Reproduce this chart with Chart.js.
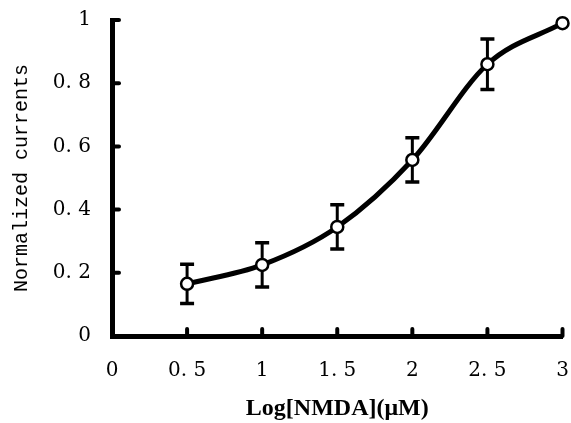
<!DOCTYPE html>
<html>
<head>
<meta charset="utf-8">
<script src="https://cdn.jsdelivr.net/npm/chart.js@4"></script>
<style>
html,body{margin:0;padding:0;background:#fff;}
#wrap{width:571px;height:423px;position:relative;}
</style>
</head>
<body>
<div id="wrap"><canvas id="c" width="571" height="423"></canvas></div>
<script>
// Data
const logConc = [0.5, 1, 1.5, 2, 2.5, 3];
const currents = [0.165, 0.225, 0.345, 0.557, 0.86, 0.99];
const errors = [0.062, 0.07, 0.07, 0.07, 0.08, 0];
const xTickLabels = ['0', '0. 5', '1', '1. 5', '2', '2. 5', '3'];
const yTickLabels = ['0', '0. 2', '0. 4', '0. 6', '0. 8', '1'];
const xTitle = 'Log[NMDA](\u03BCM)';
const yTitle = 'Normalized currents';

const errorBars = {
  id: 'errorBars',
  beforeDatasetsDraw(chart) {
    const ctx = chart.ctx, xs = chart.scales.x, ys = chart.scales.y;
    ctx.save();
    ctx.strokeStyle = '#000';
    ctx.lineCap = 'butt';
    logConc.forEach((x, i) => {
      const e = errors[i];
      if (!e) return;
      const px = xs.getPixelForValue(x);
      const top = ys.getPixelForValue(currents[i] + e);
      const bot = ys.getPixelForValue(currents[i] - e);
      ctx.lineWidth = 3;
      ctx.beginPath(); ctx.moveTo(px, top); ctx.lineTo(px, bot); ctx.stroke();
      ctx.lineWidth = 3.5;
      ctx.beginPath();
      ctx.moveTo(px - 7, top); ctx.lineTo(px + 7, top);
      ctx.moveTo(px - 7, bot); ctx.lineTo(px + 7, bot);
      ctx.stroke();
    });
    ctx.restore();
  }
};

const innerTicks = {
  id: 'innerTicks',
  afterDraw(chart) {
    const ctx = chart.ctx, xs = chart.scales.x, ys = chart.scales.y;
    const a = chart.chartArea;
    ctx.save();
    ctx.strokeStyle = '#000';
    ctx.lineWidth = 4;
    ctx.lineCap = 'round';
    ys.ticks.forEach(t => {
      const py = ys.getPixelForValue(t.value);
      if (t.value === 0) return;
      ctx.beginPath(); ctx.moveTo(a.left, py); ctx.lineTo(a.left + 7, py); ctx.stroke();
    });
    xs.ticks.forEach(t => {
      const px = xs.getPixelForValue(t.value);
      if (t.value === 0) return;
      ctx.beginPath(); ctx.moveTo(px, a.bottom); ctx.lineTo(px, a.bottom - 7); ctx.stroke();
    });
    ctx.restore();
  }
};

function zeroPad(s) { s.paddingLeft = 0; s.paddingRight = 0; s.paddingTop = 0; s.paddingBottom = 0; }

new Chart(document.getElementById('c'), {
  type: 'line',
  data: {
    datasets: [{
      data: logConc.map((x, i) => ({x: x, y: currents[i]})),
      borderColor: '#000',
      borderWidth: 5,
      cubicInterpolationMode: 'monotone',
      pointRadius: 6,
      pointBorderWidth: 2.5,
      pointBackgroundColor: '#fff',
      pointBorderColor: '#000',
      fill: false,
      clip: false
    }]
  },
  options: {
    responsive: false,
    animation: false,
    events: [],
    layout: {padding: {top: 20, right: 6, left: 10, bottom: 0}},
    plugins: {legend: {display: false}, tooltip: {enabled: false}},
    scales: {
      x: {
        type: 'linear', min: 0, max: 3,
        afterFit(s) { s.height = 87; zeroPad(s); },
        border: {display: true, color: '#000', width: 5},
        grid: {display: false, drawTicks: false},
        ticks: {
          stepSize: 0.5, padding: 23, color: '#000',
          font: {family: 'DejaVu Serif', size: 20},
          callback: (v, i) => xTickLabels[i]
        },
        title: {
          display: true, text: xTitle, color: '#000', padding: {top: 4, bottom: 0},
          font: {family: 'Liberation Serif', size: 24, weight: 'bold'}
        }
      },
      y: {
        type: 'linear', min: 0, max: 1,
        afterFit(s) { s.width = 102; zeroPad(s); },
        border: {display: true, color: '#000', width: 5},
        grid: {display: false, drawTicks: false},
        ticks: {
          stepSize: 0.2, padding: 21, color: '#000',
          font: {family: 'DejaVu Serif', size: 20},
          callback: (v, i) => yTickLabels[i]
        },
        title: {
          display: true, text: yTitle, color: '#000', padding: {top: 0, bottom: 4},
          font: {family: 'Liberation Mono', size: 20}
        }
      }
    }
  },
  plugins: [errorBars, innerTicks]
});
</script>
</body>
</html>
